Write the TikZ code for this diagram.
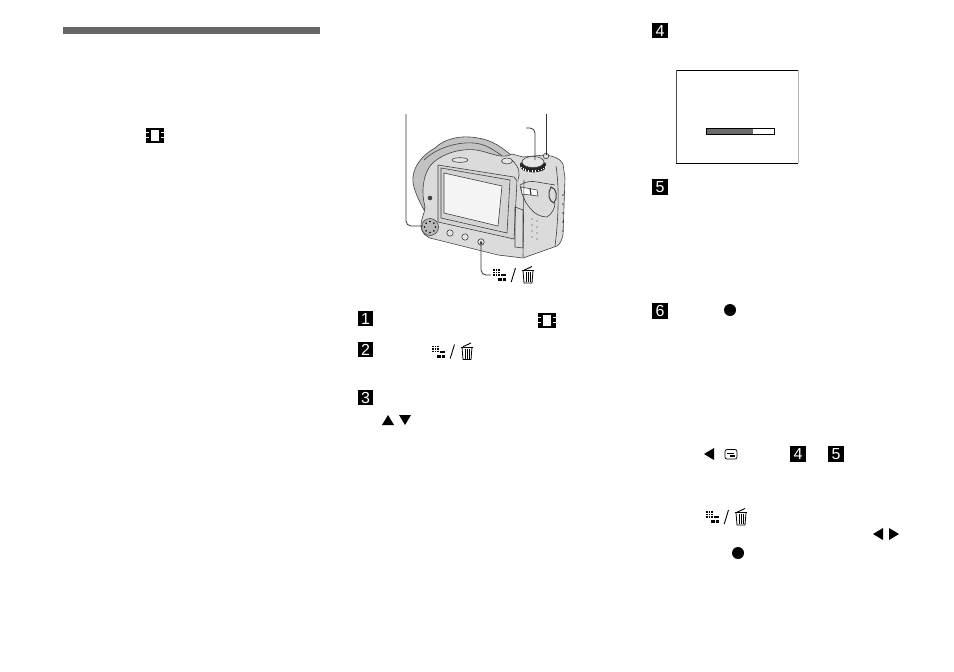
\documentclass[tikz,border=0pt]{standalone}
\usepackage{fontspec}
\setmainfont{Liberation Sans}
\usetikzlibrary{calc}
\usepackage{xcolor}
\definecolor{camBody}{gray}{.86}
\definecolor{camLight}{gray}{.90}
\definecolor{camHood}{gray}{.76}
\definecolor{camLine}{gray}{.25}
\tikzset{
 badge/.style={fill=black, text=white, minimum size=15.5, inner sep=0, font=\fontsize{16}{16}\selectfont},
 leader/.style={gray!40!black, line width=.8, rounded corners=5},
 camEdge/.style={camLine, line width=.6},
 blob/.style={fill=black, circle, minimum size=12, inner sep=0},
 film/.pic={
  \fill[black] (-9,-7.5) rectangle (9,7.5);
  \fill[white] (-4,-5.5) rectangle (4,5.5);
  \foreach \y in {-3.2,2.2} {
   \fill[white] (-9,\y) rectangle (-5.7,\y+1);
   \fill[white] (5.7,\y) rectangle (9,\y+1);
  }
 },
 indextrash/.pic={
  \foreach \x in {0,2.6,5.2} \foreach \y in {-6,-3.4,-.8} \fill[black] (\x,\y) rectangle ++(1.7,1.7);
  \fill[black] (7.8,-.8) rectangle ++(5,2);
  \fill[black] (5.2,3.2) rectangle ++(3.6,3);
  \fill[black] (9.6,3.2) rectangle ++(3.6,3);
  \draw[black, line width=.9] (22.5,-7) -- (18.2,7);
  \draw[black, line width=.8] (28.5,-4.6) -- (41,-4.6);
  \draw[black, line width=.9] (31,-4.8) -- (39,-8.5);
  \draw[black, line width=.8] (30,-4.5) -- (31,8) -- (39,8) -- (40,-4.5);
  \foreach \x in {33,35,37} \draw[black, line width=.8] (\x,-3) -- (\x,7);
 }
}
\begin{document}
\begin{tikzpicture}[x=1pt, y=-1pt]
\useasboundingbox (0,0) rectangle (954,672);
\fill[gray!80!black] (63,27) rectangle (320,34);
% camera
\filldraw[camEdge, fill=camHood] (424,210) .. controls (416,195) and (412,185) .. (413,177) .. controls (414,165) and (424,154) .. (435,148) .. controls (445,138) and (462,135) .. (478,138) .. controls (492,140) and (503,148) .. (512,156) -- (516,180) -- (440,170) -- cycle;
\draw[camEdge] (424,160) .. controls (438,146) and (468,138) .. (486,146) .. controls (495,150) and (502,156) .. (510,162);
\filldraw[camEdge, fill=camBody] (512,154) -- (523,157) -- (545,155) .. controls (553,156) and (560,158) .. (563,164) -- (565,178) -- (563,235) .. controls (562,240) and (560,244) .. (557,246) -- (523,258) -- (498,255) -- (434,239) .. controls (426,238) and (421,232) .. (421,226) .. controls (421,218) and (425,213) .. (425,207) .. controls (421,192) and (423,176) .. (430,166) .. controls (440,154) and (460,148) .. (476,150) .. controls (490,152) and (502,160) .. (512,154) -- cycle;
% screen frame and screen
\filldraw[camEdge, fill=camHood!70!white] (438,165) -- (514,177) -- (517,181) -- (514,239) -- (438,222) -- cycle;
\draw[camEdge] (441,168) -- (510,180) -- (507,233) -- (441,218) -- cycle;
\filldraw[camEdge, fill=camLight!45!white] (444,173) -- (502,186) -- (498,226) -- (444,213) -- cycle;
% slot and small parts
\draw[camEdge, fill=camLight] (460,160) ellipse [x radius=8, y radius=2.3];
\fill[camLine] (430,198) circle (2.3);
\draw[camEdge, fill=camBody!70!black!70] (430,227) circle (8.5);
\foreach \a in {0,45,...,315} \fill[black] ($(430,227)+(\a:5.5)$) circle (.9);
\foreach \p in {(450,233),(465,237),(481,242)} \draw[camEdge, fill=camLight] \p circle (3.2);
\fill[camLine] (481,243) circle (1.5);
% top plate and dial
\draw[camEdge, fill=camLight] (507,161) ellipse [x radius=5.5, y radius=3];
\fill[camLine] (520,162) .. controls (522,172) and (544,172) .. (546,162) .. controls (546,170) and (546,171) .. (533,172.5) .. controls (522,171) and (520,170) .. (520,162) -- cycle;
\fill[black!85] (533,165.5) ellipse [x radius=13, y radius=6.5];
\foreach \a in {200,215,...,340} \draw[white, line width=.4] ($(533,165.5)+(\a+180:13 and 6.5)$) -- ++(0,-1.6);
\draw[camEdge, fill=camLight] (533,162) ellipse [x radius=11, y radius=5.5];
\draw[camEdge, fill=camBody] (546,156) circle (2.8);
\draw[camEdge] (512,160) .. controls (520,168) and (520,174) .. (518,180);
% grip, switch, latch
\draw[camEdge] (520,185) .. controls (522,196) and (526,204) .. (530,208) .. controls (534,214) and (541,217) .. (547,217) .. controls (552,214) and (555,208) .. (555,203);
\draw[camEdge] (520,185) .. controls (526,181) and (532,181) .. (537,182) -- (555,185);
\filldraw[camEdge, fill=white] (521,187) -- (537,190) -- (538,196) -- (522,194) -- cycle;
\draw[camEdge, line width=1.3] (530,188.5) -- (531,195);
\filldraw[camEdge, fill=camBody, line width=1] (551,187) .. controls (557,188) and (558,198) .. (554,203) .. controls (549,202) and (547,193) .. (551,187) -- cycle;
% card door
\draw[camEdge] (515,207) -- (523,210) -- (523,248) -- (515,247) -- cycle;
\draw[camEdge] (524,180) -- (523,257);
\foreach \y in {219,225,231,237} {
 \fill[camLine] (532,\y) circle (.6);
 \fill[camLine] (537,\y+2) circle (.6);
}
\foreach \y in {195,204,213,222,231} \fill[camLine] (563,\y) circle (.8);
\draw[camEdge] (556,166) .. controls (559,185) and (559,215) .. (555,246);
% leaders
\coordinate (padTop) at (406,114);
\coordinate (padEnd) at (423,226);
\coordinate (dialTop) at (526,128);
\coordinate (dialEnd) at (535,160);
\coordinate (shutterTop) at (546,114);
\coordinate (shutterEnd) at (546,155);
\coordinate (btnEnd) at (481,241);
\coordinate (btnLabel) at (491,275);
\draw[leader] (padTop) -- (406,226) -- (padEnd);
\draw[leader] (dialTop) -- (535,128) -- (dialEnd);
\draw[leader] (shutterTop) -- (shutterEnd);
\draw[leader] (btnEnd) -- (481,275) -- (btnLabel);
\pic at (493,275) {indextrash};
% steps
\node[badge] (stepA) at (365.5,318.5) {1};
\node[badge] (stepB) at (365.5,349.5) {2};
\node[badge] (stepC) at (365.5,397.5) {3};
\node[badge] (stepD) at (660,30.5) {4};
\node[badge] (stepE) at (660,187) {5};
\node[badge] (stepF) at (660,311) {6};
\node[badge] (stepDs) at (798,454) {4};
\node[badge] (stepEs) at (836,454) {5};
\pic at (155,135) {film};
\pic at (547,320) {film};
\pic at (432,351.5) {indextrash};
\pic at (706,517) {indextrash};
% dialog
\draw[black, line width=.8] (798,70) -- (676,70) -- (676,163) -- (798,163);
\draw[gray!60, line width=.8] (798,70) -- (798,163);
\draw[gray!60!black, line width=.8] (676,70) -- (676,163);
\fill[gray!85!black] (706,128) rectangle (753,134);
\draw[black, line width=.9] (706,128) rectangle (774,134);
% marks
\node[blob] (okA) at (730,310) {};
\node[blob] (okB) at (738,553) {};
\fill[black] (388,415) -- (394,425) -- (382,425) -- cycle;
\fill[black] (405,425) -- (411,415) -- (399,415) -- cycle;
\fill[black] (704,454) -- (714,448) -- (714,460) -- cycle;
\fill[black] (873,534) -- (883,528) -- (883,540) -- cycle;
\fill[black] (899,534) -- (889,528) -- (889,540) -- cycle;
\draw[black, line width=.7, rounded corners=2] (725,449.5) rectangle (737,459);
\draw[black, line width=.7] (727,453) -- (734,453);
\fill[black] (730,455) -- (735,455) -- (735,457) -- (730,457) -- cycle;
\end{tikzpicture}
\end{document}
